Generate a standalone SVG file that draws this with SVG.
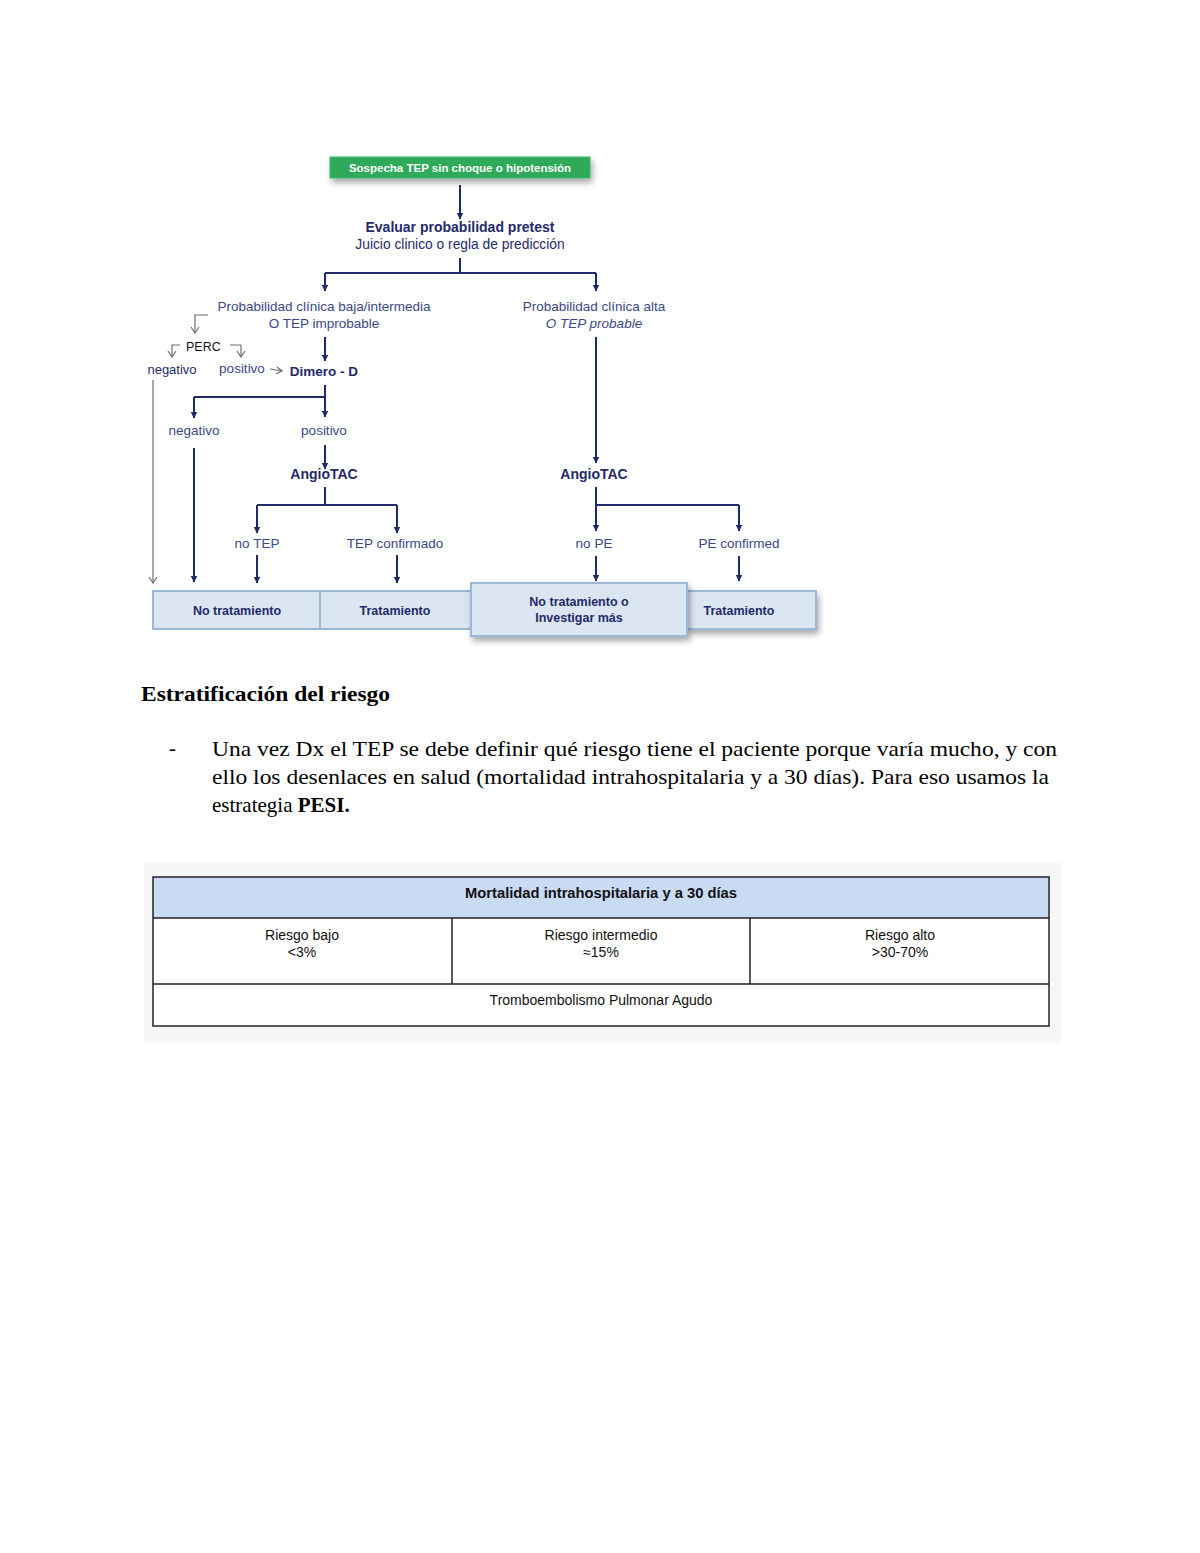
<svg xmlns="http://www.w3.org/2000/svg" width="1200" height="1553" viewBox="0 0 1200 1553">
<defs>
<marker id="ah" markerWidth="7" markerHeight="7" refX="6.5" refY="3.5" orient="auto" markerUnits="userSpaceOnUse" viewBox="0 0 7 7">
<path d="M0,0 L7,3.5 L0,7 Z" fill="#1F2A6B"/>
</marker>
<marker id="ag" markerWidth="10" markerHeight="8" refX="5" refY="7" markerUnits="userSpaceOnUse" viewBox="0 0 10 8">
<path d="M1,1 L5,7 L9,1" fill="none" stroke="#6b6f80" stroke-width="1.2"/>
</marker>
<filter id="sh" x="-10%" y="-30%" width="120%" height="180%">
<feGaussianBlur in="SourceAlpha" stdDeviation="3"/>
<feOffset dx="2" dy="4"/>
<feComponentTransfer><feFuncA type="linear" slope="0.35"/></feComponentTransfer>
<feMerge><feMergeNode/><feMergeNode in="SourceGraphic"/></feMerge>
</filter>
</defs>
<style>
.fl{font-family:"Liberation Sans",Arial,sans-serif;}
.b{font-weight:bold;}
.nv{fill:#1F2A6B;}
.lb{fill:#3B4889;font-size:13.5px;}
.ln{stroke:#1F2A6B;stroke-width:2;fill:none;}
.gl{stroke:#6b6f80;stroke-width:1.2;fill:none;}
.bx{fill:#DCE6F2;stroke:#9DB9D9;stroke-width:2;}
.bt{font-family:"Liberation Sans",Arial,sans-serif;font-weight:bold;font-size:12.5px;fill:#1F2A6B;}
.sr{font-family:"Liberation Serif","Times New Roman",serif;fill:#000;}
.tb{font-family:"Liberation Sans",Arial,sans-serif;font-size:14px;fill:#111;}
.tl{stroke:#222;stroke-width:1.5;fill:none;}
</style>
<rect width="1200" height="1553" fill="#ffffff"/>

<g id="connectors">
<path class="ln" d="M460,185 V219" marker-end="url(#ah)"/>
<path class="ln" d="M460,258 V273 M325,273 H596"/>
<path class="ln" d="M325,273 V291" marker-end="url(#ah)"/>
<path class="ln" d="M596,273 V291" marker-end="url(#ah)"/>
<path class="ln" d="M325,337 V361" marker-end="url(#ah)"/>
<path class="gl" d="M208,315 H195 V333" marker-end="url(#ag)"/>
<path class="gl" d="M180,345 H172 V357" marker-end="url(#ag)"/>
<path class="gl" d="M230,345 H241 V357" marker-end="url(#ag)"/>
<path class="gl" d="M270,369 L282,371 M277,367 L282,371 L276,374"/>
<path class="gl" d="M153,380 V583" marker-end="url(#ag)"/>
<path class="ln" d="M325,385 V417" marker-end="url(#ah)"/>
<path class="ln" d="M194,397 H325"/>
<path class="ln" d="M194,397 V418" marker-end="url(#ah)"/>
<path class="ln" d="M194,448 V582" marker-end="url(#ah)"/>
<path class="ln" d="M325,445 V469" marker-end="url(#ah)"/>
<path class="ln" d="M325,487 V505 M257,505 H397"/>
<path class="ln" d="M257,505 V533" marker-end="url(#ah)"/>
<path class="ln" d="M397,505 V533" marker-end="url(#ah)"/>
<path class="ln" d="M257,555 V583" marker-end="url(#ah)"/>
<path class="ln" d="M397,555 V583" marker-end="url(#ah)"/>
<path class="ln" d="M596,337 V463" marker-end="url(#ah)"/>
<path class="ln" d="M596,487 V531" marker-end="url(#ah)"/>
<path class="ln" d="M596,505 H739"/>
<path class="ln" d="M739,505 V531" marker-end="url(#ah)"/>
<path class="ln" d="M596,556 V581" marker-end="url(#ah)"/>
<path class="ln" d="M739,556 V581" marker-end="url(#ah)"/>
</g>

<g id="start">
<rect x="330" y="157" width="260" height="21" fill="#2EAA5A" stroke="#3fb868" filter="url(#sh)"/>
<text class="fl b" x="460" y="172" text-anchor="middle" font-size="11.5" fill="#ffffff">Sospecha TEP sin choque o hipotensión</text>
</g>

<g id="evaluar">
<text class="fl b nv" x="460" y="232" text-anchor="middle" font-size="14">Evaluar probabilidad pretest</text>
<text class="fl nv" x="460" y="249" text-anchor="middle" font-size="13.8">Juicio clinico o regla de predicción</text>
</g>

<g id="prob-baja">
<text class="fl lb" x="324" y="311" text-anchor="middle">Probabilidad clínica baja/intermedia</text>
<text class="fl lb" x="324" y="328" text-anchor="middle">O TEP improbable</text>
</g>

<g id="prob-alta">
<text class="fl lb" x="594" y="311" text-anchor="middle">Probabilidad clínica alta</text>
<text class="fl lb" x="594" y="328" text-anchor="middle" font-style="italic">O TEP probable</text>
</g>

<g id="perc">
<text class="fl" x="186" y="351" font-size="12.5" fill="#111">PERC</text>
</g>
<g id="perc-neg">
<text class="fl nv" x="172" y="374" text-anchor="middle" font-size="13">negativo</text>
</g>
<g id="perc-pos">
<text class="fl lb" x="242" y="373" text-anchor="middle" font-size="13">positivo</text>
</g>

<g id="dimero">
<text class="fl b nv" x="324" y="376" text-anchor="middle" font-size="13.5">Dimero - D</text>
</g>

<g id="dd-neg"><text class="fl lb" x="194" y="435" text-anchor="middle">negativo</text></g>
<g id="dd-pos"><text class="fl lb" x="324" y="435" text-anchor="middle">positivo</text></g>

<g id="angio1"><text class="fl b nv" x="324" y="479" text-anchor="middle" font-size="14">AngioTAC</text></g>
<g id="angio2"><text class="fl b nv" x="594" y="479" text-anchor="middle" font-size="14">AngioTAC</text></g>

<g id="notep"><text class="fl lb" x="257" y="548" text-anchor="middle">no TEP</text></g>
<g id="tepconf"><text class="fl lb" x="395" y="548" text-anchor="middle">TEP confirmado</text></g>
<g id="nope"><text class="fl lb" x="594" y="548" text-anchor="middle">no PE</text></g>
<g id="peconf"><text class="fl lb" x="739" y="548" text-anchor="middle">PE confirmed</text></g>

<g id="box-notrat">
<rect class="bx" x="153" y="591" width="167" height="38"/>
<text class="bt" x="237" y="615" text-anchor="middle">No tratamiento</text>
</g>
<g id="box-trat1">
<rect class="bx" x="320" y="591" width="151" height="38"/>
<text class="bt" x="395" y="615" text-anchor="middle">Tratamiento</text>
</g>
<g id="box-trat2">
<rect class="bx" x="687" y="591" width="129" height="38" filter="url(#sh)"/>
<text class="bt" x="739" y="615" text-anchor="middle">Tratamiento</text>
</g>
<g id="box-investigar">
<rect class="bx" x="471" y="583" width="216" height="53" filter="url(#sh)"/>
<text class="bt" x="579" y="606" text-anchor="middle" font-size="11.5">No tratamiento o</text>
<text class="bt" x="579" y="622" text-anchor="middle" font-size="11.5">Investigar más</text>
</g>

<g id="texto">
<text class="sr" x="141" y="701" font-size="20" font-weight="bold" textLength="249" lengthAdjust="spacingAndGlyphs">Estratificación del riesgo</text>
<text class="sr" x="169" y="755" font-size="21">-</text>
<text class="sr" x="212" y="756" font-size="21" textLength="845" lengthAdjust="spacingAndGlyphs">Una vez Dx el TEP se debe definir qué riesgo tiene el paciente porque varía mucho, y con</text>
<text class="sr" x="212" y="784" font-size="21" textLength="837" lengthAdjust="spacingAndGlyphs">ello los desenlaces en salud (mortalidad intrahospitalaria y a 30 días). Para eso usamos la</text>
<text class="sr" x="212" y="812" font-size="21">estrategia <tspan font-weight="bold">PESI.</tspan></text>
</g>

<g id="tabla">
<rect x="144" y="863" width="917" height="180" fill="#F6F6F6"/>
<rect x="153" y="877" width="896" height="41" fill="#C9DAF5"/>
<rect x="153" y="918" width="896" height="108" fill="#ffffff"/>
<rect class="tl" x="153" y="877" width="896" height="149"/>
<path class="tl" d="M153,918 H1049 M153,984 H1049 M452,918 V984 M750,918 V984"/>
<text class="tb" x="601" y="898" text-anchor="middle" font-weight="bold" textLength="272" lengthAdjust="spacingAndGlyphs">Mortalidad intrahospitalaria y a 30 días</text>
<text class="tb" x="302" y="940" text-anchor="middle">Riesgo bajo</text>
<text class="tb" x="302" y="957" text-anchor="middle">&lt;3%</text>
<text class="tb" x="601" y="940" text-anchor="middle">Riesgo intermedio</text>
<text class="tb" x="601" y="957" text-anchor="middle">≈15%</text>
<text class="tb" x="900" y="940" text-anchor="middle">Riesgo alto</text>
<text class="tb" x="900" y="957" text-anchor="middle">&gt;30-70%</text>
<text class="tb" x="601" y="1005" text-anchor="middle">Tromboembolismo Pulmonar Agudo</text>
</g>
</svg>
